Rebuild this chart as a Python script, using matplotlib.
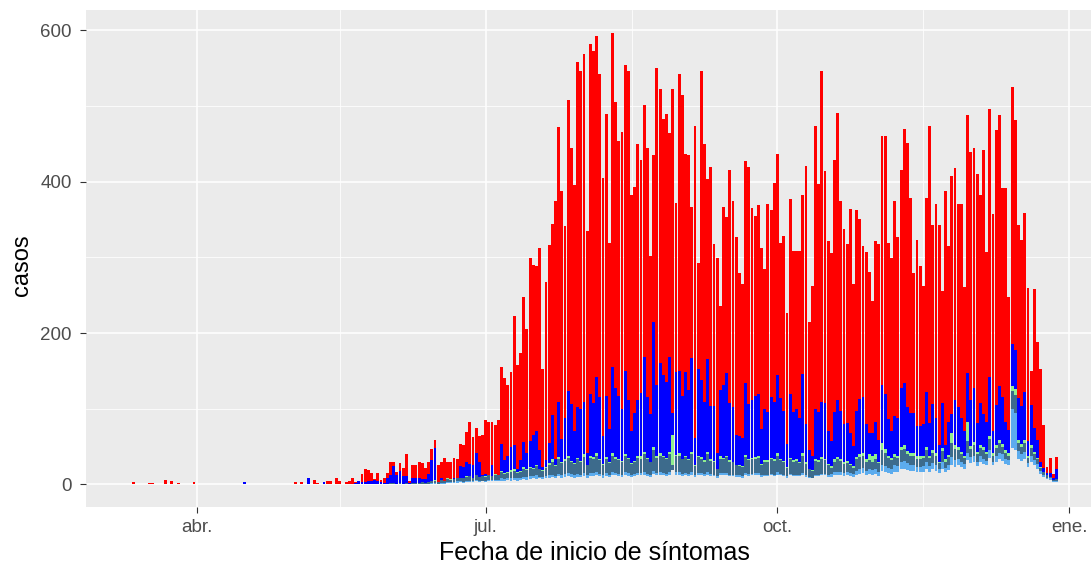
import numpy as np
import pandas as pd
import matplotlib
matplotlib.use("Agg")
import matplotlib.pyplot as plt
import matplotlib.dates as mdates

# ---------------- data (daily, 2020-03-12 .. 2020-12-28) ----------------
start_date = "2020-03-12"
end_date = "2020-12-28"

red_total = [
    3,1,1,1,1,2,2,1,1,1,
    6,1,4,1,2,1,1,1,1,3,
    1,0,0,1,0,1,1,1,1,1,
    1,1,1,0,0,3,1,1,1,1,
    1,1,1,1,1,0,0,1,0,1,
    1,3,0,3,1,9,1,6,2,1,
    3,4,4,1,9,4,1,3,4,8,
    3,5,14,20,19,15,7,15,6,8,
    15,30,30,16,28,22,40,5,25,26,
    29,28,22,30,47,59,25,30,35,29,
    29,35,33,53,52,69,82,62,75,64,
    65,85,83,82,79,85,155,140,131,148,
    223,158,173,248,205,299,290,289,312,153,
    268,316,344,374,472,388,342,508,445,396,
    558,546,569,335,582,573,593,542,405,490,
    319,597,505,454,465,554,546,382,393,450,
    428,501,445,302,435,550,523,483,490,464,
    523,372,542,514,436,435,367,473,293,546,
    450,403,420,318,299,236,366,353,415,375,
    327,280,265,427,420,365,354,369,313,284,
    371,363,398,436,319,328,226,377,309,309,
    309,382,421,214,262,473,397,546,414,321,
    306,428,491,374,337,318,364,265,363,351,
    315,307,281,242,322,318,461,461,319,299,
    375,327,416,469,451,379,279,323,289,262,
    379,473,343,371,343,255,388,315,408,418,
    371,370,261,488,439,445,410,382,442,307,
    496,357,468,488,391,391,248,525,482,343,
    323,359,260,150,258,188,153,79,23,35,
    14,36,
]

blue_level = [
    0,0,0,0,0,1,0,0,0,1,
    0,0,0,0,0,1,0,0,0,0,
    0,0,0,0,0,1,0,1,1,1,
    1,1,0,0,0,3,0,0,1,1,
    0,1,0,0,0,0,0,1,0,0,
    1,0,0,0,0,9,0,1,0,0,
    3,0,0,0,1,1,0,0,0,1,
    2,4,3,3,4,5,6,4,3,2,
    9,13,24,12,18,11,11,2,8,8,
    8,7,7,14,32,48,3,9,4,8,
    5,9,9,24,23,29,27,26,41,30,
    12,14,9,26,13,12,54,32,38,49,
    52,20,32,56,42,58,65,70,46,23,
    32,55,92,33,109,60,88,123,106,71,
    102,100,109,41,119,108,142,116,64,117,
    73,155,127,117,99,150,112,70,94,111,
    121,169,115,93,214,131,160,144,135,169,
    94,149,150,117,149,125,167,61,153,138,
    109,166,103,104,41,125,131,147,108,102,
    65,64,61,134,106,111,117,119,73,99,
    96,115,109,144,114,97,54,119,96,99,
    88,146,80,46,38,99,96,109,107,71,
    58,96,111,97,80,81,68,51,97,113,
    116,80,68,68,83,59,132,120,86,71,
    90,88,127,134,102,94,95,77,77,80,
    122,81,106,88,52,108,52,82,93,111,
    102,88,71,147,112,127,81,108,93,82,
    142,71,105,130,115,82,72,186,178,114,
    104,122,57,105,74,59,30,22,15,15,
    9,21,
]

zeros80 = [0] * 80

green_level = zeros80 + [
    1,2,2,1,2,1,2,1,2,2,
    2,3,2,3,4,6,3,6,5,8,
    7,7,9,9,8,11,11,9,13,10,
    11,11,13,11,14,12,18,15,16,19,
    20,16,18,23,20,23,22,26,21,19,
    23,28,33,25,36,29,33,38,31,28,
    35,31,40,26,37,36,41,33,27,36,
    29,41,36,33,31,40,35,28,31,38,
    37,43,35,30,49,37,41,38,35,43,
    65,39,41,34,38,33,43,25,38,36,
    32,43,33,31,21,37,35,38,32,30,
    26,25,24,39,34,35,36,38,27,32,
    32,35,33,41,34,31,23,35,32,33,
    30,41,29,21,19,33,32,36,34,27,
    24,33,36,34,29,31,27,24,36,40,
    41,33,40,38,40,30,55,47,38,35,
    40,38,49,52,44,42,41,37,37,38,
    49,38,46,41,30,48,33,39,68,52,
    50,43,38,82,51,56,43,52,49,43,
    64,41,52,59,54,45,41,130,126,59,
    54,59,37,52,43,35,23,17,12,10,
    6,7,
]

dark_level = zeros80 + [
    1,2,2,1,2,1,2,1,2,2,
    2,3,2,3,4,5,3,6,5,7,
    6,7,8,9,8,10,11,9,12,10,
    11,10,12,11,13,12,16,14,15,17,
    18,15,17,20,19,22,21,24,20,18,
    22,26,30,24,33,28,31,35,30,27,
    33,30,36,25,35,34,38,32,26,34,
    28,38,34,32,30,37,33,27,30,35,
    34,40,33,29,45,35,38,36,33,40,
    25,37,38,33,36,32,40,24,36,34,
    30,40,31,30,20,34,33,36,30,29,
    25,24,23,36,32,33,34,35,26,30,
    30,33,31,38,32,29,22,33,30,31,
    28,38,27,20,18,31,30,33,32,25,
    22,30,33,31,27,28,25,22,33,36,
    37,30,32,30,33,28,45,42,35,32,
    36,35,45,47,40,38,38,34,34,35,
    45,35,42,38,28,44,30,36,55,47,
    46,40,35,58,47,52,40,48,45,40,
    60,38,48,55,50,42,38,123,118,55,
    50,55,35,48,40,33,22,16,12,10,
    6,7,
]

lightblue_level = zeros80 + [
    1,1,1,0,1,1,1,0,1,1,
    1,1,1,1,2,2,1,2,2,3,
    3,3,4,4,3,5,5,4,6,5,
    5,5,6,6,6,6,8,7,8,8,
    9,8,9,10,10,11,11,12,10,10,
    11,12,13,11,14,13,14,15,14,13,
    14,13,15,12,15,15,16,14,12,15,
    13,16,15,14,13,16,15,13,14,15,
    15,17,14,13,18,15,16,15,14,16,
    19,16,16,14,15,14,16,12,15,15,
    14,16,14,13,11,15,15,15,13,13,
    12,12,11,15,14,14,15,15,12,13,
    13,14,13,16,14,13,11,14,13,13,
    13,15,12,10,9,13,13,14,14,12,
    14,16,17,16,15,16,15,14,18,20,
    22,18,20,19,21,17,26,24,22,20,
    25,24,30,31,28,26,26,23,23,24,
    30,24,28,26,20,30,22,26,36,32,
    34,30,27,42,36,38,30,37,34,31,
    46,30,38,42,40,34,32,100,95,44,
    40,43,28,38,32,27,18,13,9,8,
    4,5,
]

base_level = zeros80 + [
    0,0,0,0,0,0,0,0,0,0,
    0,0,0,0,0,1,0,1,1,2,
    2,2,2,3,2,3,3,3,4,3,
    4,3,4,4,4,5,5,5,6,5,
    6,5,6,7,6,7,8,7,8,7,
    8,9,10,8,11,9,10,11,10,9,
    10,10,11,9,11,11,12,11,9,11,
    10,12,12,11,10,12,11,10,11,12,
    12,13,11,10,14,12,13,12,11,13,
    19,12,13,11,12,11,13,10,12,12,
    11,13,11,11,9,12,12,12,11,11,
    10,10,9,12,11,12,12,12,10,11,
    11,12,11,13,12,11,9,12,11,11,
    11,13,10,8,8,11,11,12,12,10,
    10,12,13,12,11,12,11,10,13,14,
    15,12,14,13,14,11,18,17,15,14,
    17,16,20,21,19,18,18,16,16,17,
    21,17,20,18,15,21,16,19,25,23,
    26,23,21,32,28,30,24,29,27,25,
    35,25,30,33,31,27,26,48,46,34,
    31,33,23,29,25,21,14,10,7,6,
    3,3,
]

major_dates = ["2020-04-01", "2020-07-01", "2020-10-01", "2021-01-01"]
major_labels = ["abr.", "jul.", "oct.", "ene."]
minor_dates = ["2020-05-16", "2020-08-16", "2020-11-16"]

colors = {
    "lightblue": "#5CACEE",
    "dark": "#3D6B8C",
    "green": "#90EE90",
    "blue": "#0000FF",
    "red": "#FF0000",
}

# ---------------- figure ----------------
W, H, DPI = 1091, 566, 100
fig = plt.figure(figsize=(W / DPI, H / DPI), dpi=DPI)
fig.patch.set_facecolor("white")

dates = pd.date_range(start_date, end_date, freq="D")
x = mdates.date2num(dates.to_pydatetime())

levels = [
    np.array(base_level, float),
    np.array(lightblue_level, float),
    np.array(dark_level, float),
    np.array(green_level, float),
    np.array(blue_level, float),
    np.array(red_total, float),
]
stack = np.maximum.accumulate(np.vstack(levels), axis=0)
seg_colors = [colors["lightblue"], colors["dark"], colors["green"], colors["blue"], colors["red"]]

bw = 0.9
xr0, xr1 = x[0] - bw / 2, x[-1] + bw / 2
span = xr1 - xr0
xlim = (xr0 - 0.05 * span, xr1 + 0.05 * span)
px_per_day = 3.171
left_px, top_px, bot_px = 86, 10, 507
right_px = left_px + (xlim[1] - xlim[0]) * px_per_day
ax = fig.add_axes([left_px / W, 1 - bot_px / H, (right_px - left_px) / W, (bot_px - top_px) / H])
ax.set_facecolor("#EBEBEB")

ymax = stack[-1].max()
ax.set_ylim(-0.05 * ymax, ymax * 1.05)
ax.set_xlim(*xlim)

for i, c in enumerate(seg_colors):
    lo = stack[i]
    hi = stack[i + 1]
    h = hi - lo
    m = h > 0
    ax.bar(x[m], h[m], bottom=lo[m], width=bw, color=c, linewidth=0, zorder=3)

maj = mdates.date2num(pd.to_datetime(major_dates).to_pydatetime())
mino = mdates.date2num(pd.to_datetime(minor_dates).to_pydatetime())
ax.set_xticks(maj)
ax.set_xticklabels(major_labels)
ax.set_xticks(mino, minor=True)
ax.set_yticks([0, 200, 400, 600])
ax.set_yticks([100, 300, 500], minor=True)
ax.grid(True, which="major", color="white", linewidth=1.1, zorder=0)
ax.grid(True, which="minor", color="white", linewidth=0.55, zorder=0)
ax.set_axisbelow(True)
for s in ax.spines.values():
    s.set_visible(False)

ax.tick_params(which="major", length=4.2, width=0.8, color="#333333",
               labelsize=13.5, labelcolor="#4D4D4D")
ax.tick_params(axis="y", which="major", pad=6)
ax.tick_params(axis="x", which="major", pad=4.5)
ax.tick_params(which="minor", length=0)
for lab in ax.get_xticklabels() + ax.get_yticklabels():
    lab.set_fontfamily("Liberation Sans")

fig.text(22 / W, 1 - 265 / H, "casos", rotation=90, ha="center", va="center",
         fontsize=17, family="Liberation Sans", color="black")
fig.text(594 / W, 1 - 553 / H, "Fecha de inicio de síntomas", ha="center", va="center",
         fontsize=18, family="Liberation Sans", color="black")

fig.savefig("out.png", dpi=DPI)
